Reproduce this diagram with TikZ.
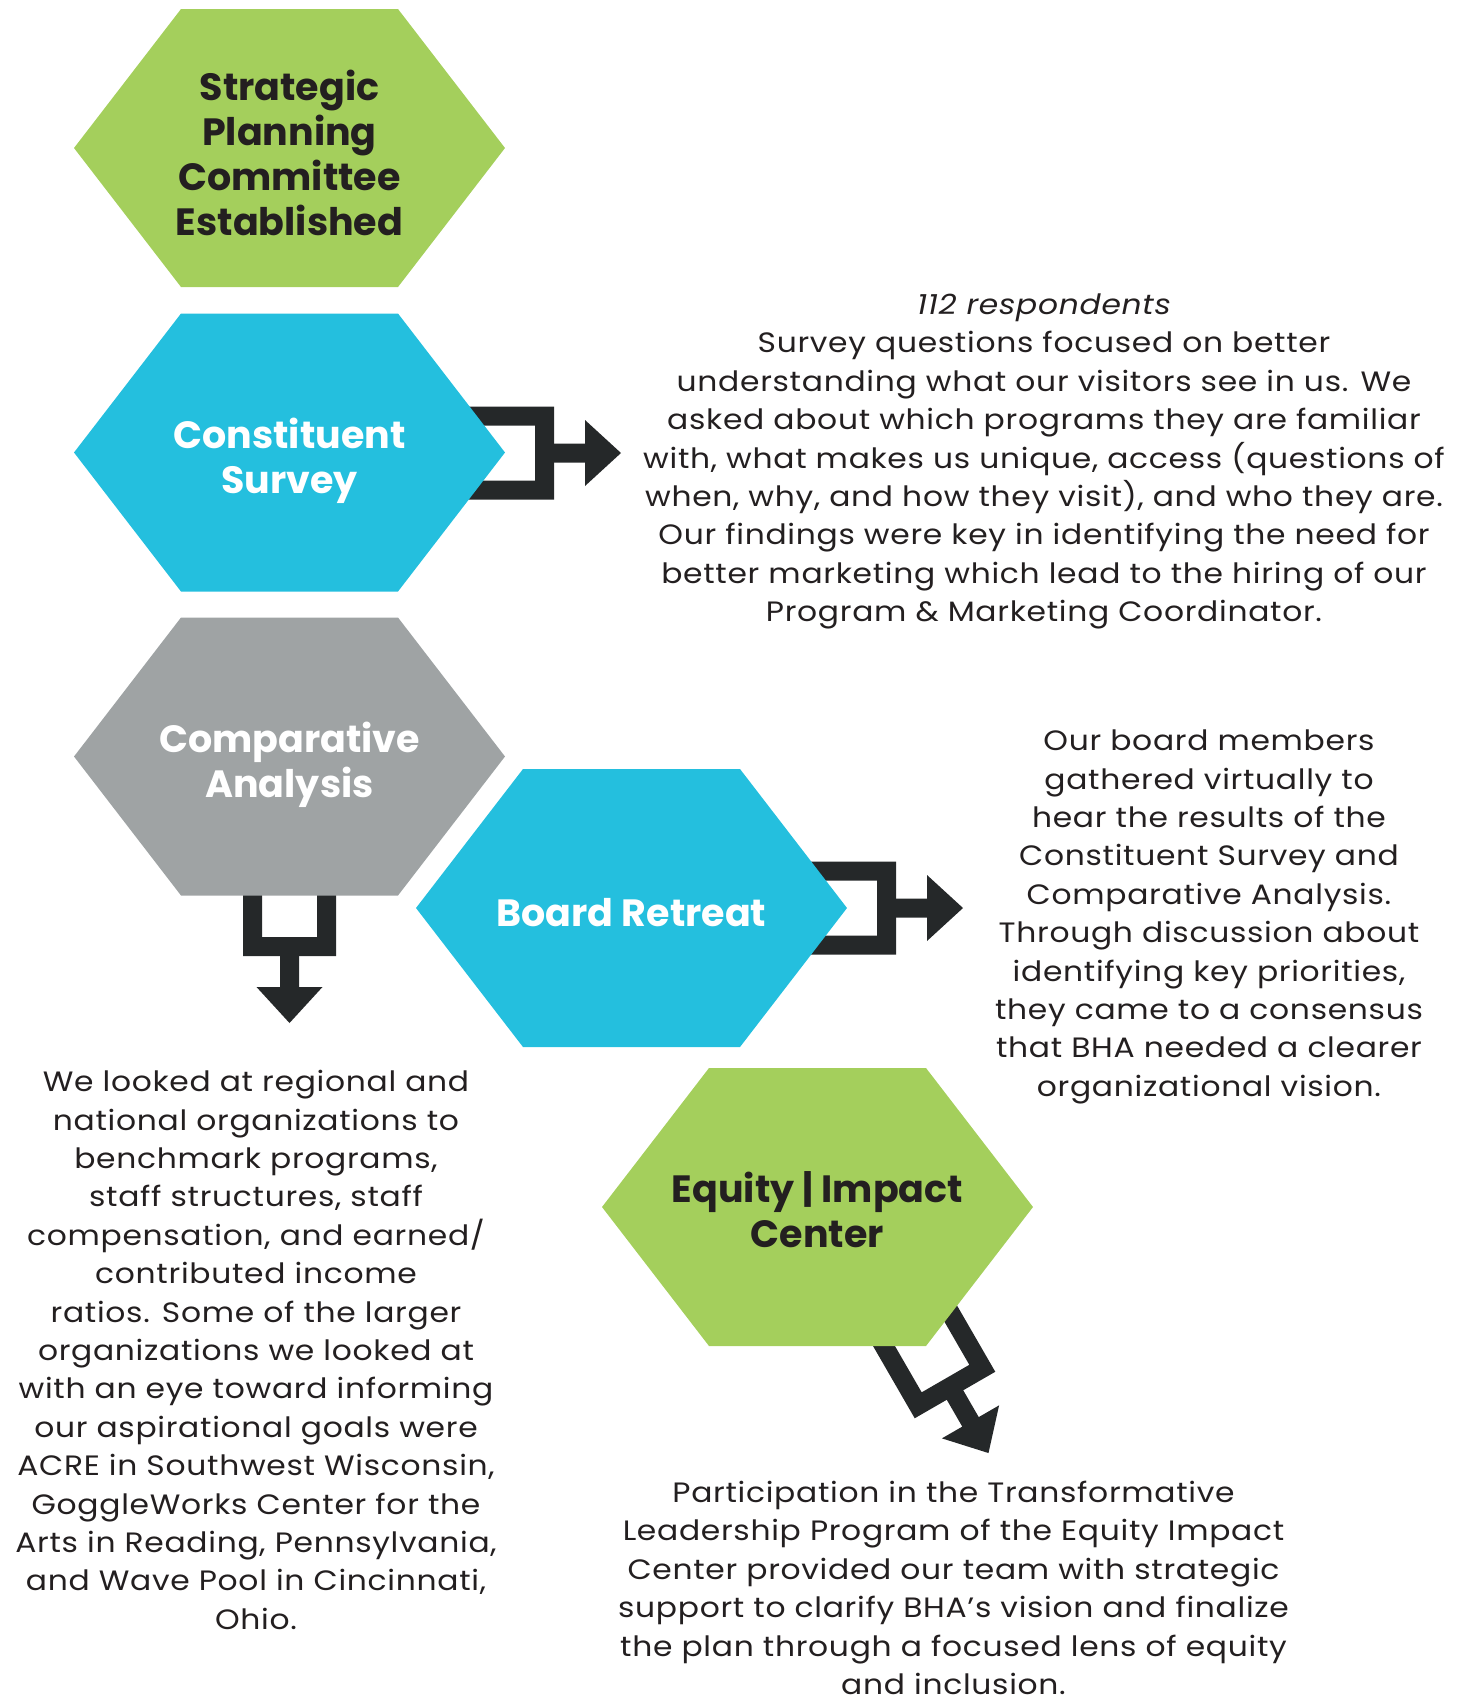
\documentclass[tikz,border=0pt]{standalone}
\usepackage{fontspec}
\setmainfont{Poppins}
% wider setting for the running descriptions
\newfontfamily\bodyfont[FakeStretch=1.12, LetterSpace=2.5]{Poppins}
\usetikzlibrary{calc}

\definecolor{hexgreen}{RGB}{164,207,92}
\definecolor{hexblue}{RGB}{36,191,222}
\definecolor{hexgray}{RGB}{159,163,164}
\definecolor{arrowdark}{RGB}{37,40,41}
\definecolor{inkdark}{RGB}{35,31,32}

\tikzset{
  % flat-topped hexagon, 431 x 278 units
  hexbox/.pic={
    \fill (-215.5,0) -- (-108.5,-139) -- (108.5,-139) -- (215.5,0)
          -- (108.5,139) -- (-108.5,139) -- cycle;
  },
  % bracket with an outgoing arrow; local origin at the bracket's outer base,
  % arrow pointing along +y (downwards on the page)
  elbowarrow/.pic={
    \fill[arrowdark] (-46.5,-120) -- (-46.5,0) -- (46.5,0) -- (46.5,-120)
          -- (27.5,-120) -- (27.5,-19) -- (-27.5,-19) -- (-27.5,-120) -- cycle;
    \fill[arrowdark] (-9.5,-1) -- (-9.5,31) -- (-33,31) -- (0,67) -- (33,31)
          -- (9.5,31) -- (9.5,-1) -- cycle;
  },
  hextitle/.style={align=center, inner sep=0pt,
    font=\fontsize{19}{22.5}\selectfont\bfseries},
  bodytext/.style={align=center, inner sep=0pt, text=inkdark,
    font=\bodyfont\fontsize{14}{19.2}\selectfont},
}

\begin{document}
\begin{tikzpicture}[x=0.5pt, y=-0.5pt]
\useasboundingbox (0,0) rectangle (1466,1699);

% hexagon centres
\coordinate (plan)   at (289.5,148);
\coordinate (survey) at (289.5,452.5);
\coordinate (compare) at (289.5,756.5);
\coordinate (board)  at (631.5,908);
\coordinate (equity) at (817.5,1207);

% arrows sit behind the hexagons
\path (survey) ++(264.5,0.5) pic[rotate=90] {elbowarrow};
\path (board) ++(264.5,0) pic[rotate=90] {elbowarrow};
\path (compare) ++(0,199.5) pic {elbowarrow};
\path (equity) ++(137.5,188) pic[rotate=30] {elbowarrow};

% hexagons
\path (plan) pic[fill=hexgreen] {hexbox};
\path (survey) pic[fill=hexblue] {hexbox};
\path (compare) pic[fill=hexgray] {hexbox};
\path (board) pic[fill=hexblue] {hexbox};
\path (equity) pic[fill=hexgreen] {hexbox};

% hexagon titles
\node[hextitle, text=inkdark] (plantitle) at ($(plan)+(0,5)$)
  {Strategic\\Planning\\Committee\\Established};
\node[hextitle, text=white] (surveytitle) at ($(survey)+(0,8)$)
  {Constituent\\Survey};
\node[hextitle, text=white] (comparetitle) at ($(compare)+(0,8)$)
  {Comparative\\Analysis};
\node[hextitle, text=white] (boardtitle) at ($(board)+(0,5)$)
  {Board Retreat};
\node[hextitle, text=inkdark] (equitytitle) at ($(equity)+(0,3)$)
  {Equity | Impact\\Center};

% descriptions
\node[bodytext] (surveytext) at (1044,461.5)
  {{\itshape 112 respondents}\\
   Survey questions focused on better\\
   understanding what our visitors see in us. We\\
   asked about which programs they are familiar\\
   with, what makes us unique, access (questions of\\
   when, why, and how they visit), and who they are.\\
   Our findings were key in identifying the need for\\
   better marketing which lead to the hiring of our\\
   Program \& Marketing Coordinator.};

\node[bodytext] (boardtext) at (1209,917)
  {Our board members\\
   gathered virtually to\\
   hear the results of the\\
   Constituent Survey and\\
   Comparative Analysis.\\
   Through discussion about\\
   identifying key priorities,\\
   they came to a consensus\\
   that BHA needed a clearer\\
   organizational vision.};

\node[bodytext] (comparetext) at (256,1350)
  {We looked at regional and\\
   national organizations to\\
   benchmark programs,\\
   staff structures, staff\\
   compensation, and earned/\\
   contributed income\\
   ratios. Some of the larger\\
   organizations we looked at\\
   with an eye toward informing\\
   our aspirational goals were\\
   ACRE in Southwest Wisconsin,\\
   GoggleWorks Center for the\\
   Arts in Reading, Pennsylvania,\\
   and Wave Pool in Cincinnati,\\
   Ohio.};

\node[bodytext] (equitytext) at (953.5,1588)
  {Participation in the Transformative\\
   Leadership Program of the Equity Impact\\
   Center provided our team with strategic\\
   support to clarify BHA’s vision and finalize\\
   the plan through a focused lens of equity\\
   and inclusion.};
\end{tikzpicture}
\end{document}
